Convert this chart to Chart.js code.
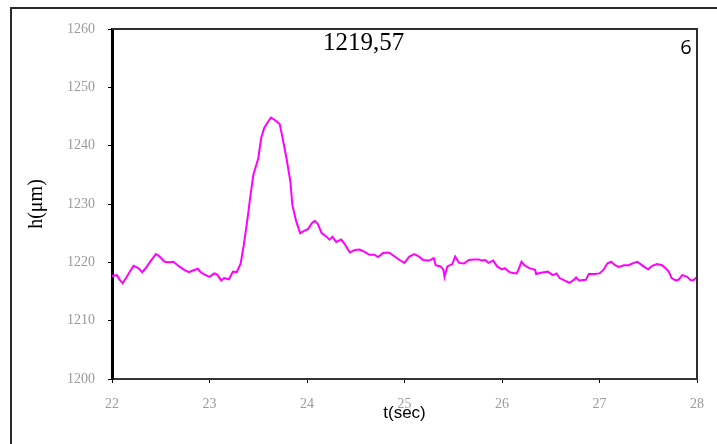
<!DOCTYPE html>
<html>
<head>
<meta charset="utf-8">
<title>h(t)</title>
<script src="https://cdn.jsdelivr.net/npm/chart.js@4.4.1/dist/chart.umd.min.js"></script>
<style>
  html, body { margin: 0; padding: 0; background: #fff; overflow: hidden; }
  #frame {
    position: absolute; left: 10px; top: 7px; width: 800px; height: 520px;
    border: 2px solid #2a2a2a; box-sizing: border-box;
  }
  #wrap { position: absolute; left: 0; top: 0; width: 717px; height: 444px; }
</style>
</head>
<body>
<div id="frame"></div>
<div id="wrap"><canvas id="chart"></canvas></div>
<script>
// Film height h (µm) over time t (s)
const times = [
  22.00, 22.01, 22.05, 22.08, 22.11, 22.15, 22.22, 22.27, 22.31, 22.35,
  22.40, 22.45, 22.48, 22.54, 22.59, 22.63, 22.69, 22.74, 22.79, 22.83,
  22.88, 22.91, 22.95, 23.00, 23.05, 23.08, 23.12, 23.15, 23.20, 23.24,
  23.28, 23.32, 23.35, 23.39, 23.42, 23.45, 23.50, 23.53, 23.56, 23.60,
  23.63, 23.67, 23.72, 23.75, 23.79, 23.83, 23.85, 23.89, 23.93, 23.97,
  24.01, 24.05, 24.08, 24.11, 24.15, 24.20, 24.23, 24.26, 24.30, 24.35,
  24.38, 24.44, 24.49, 24.54, 24.59, 24.64, 24.69, 24.73, 24.78, 24.84,
  24.90, 24.95, 25.00, 25.05, 25.10, 25.15, 25.19, 25.25, 25.30, 25.32,
  25.37, 25.40, 25.41, 25.44, 25.49, 25.52, 25.56, 25.61, 25.66, 25.71,
  25.76, 25.79, 25.83, 25.86, 25.91, 25.95, 26.00, 26.03, 26.07, 26.10,
  26.15, 26.17, 26.20, 26.23, 26.28, 26.34, 26.35, 26.40, 26.47, 26.52,
  26.56, 26.59, 26.64, 26.69, 26.73, 26.76, 26.79, 26.86, 26.89, 26.95,
  27.00, 27.04, 27.08, 27.12, 27.16, 27.20, 27.25, 27.30, 27.35, 27.39,
  27.42, 27.47, 27.50, 27.54, 27.59, 27.64, 27.67, 27.71, 27.74, 27.78,
  27.81, 27.85, 27.90, 27.93, 27.96, 28.00
];
const heights = [
  1217.8, 1217.7, 1217.8, 1217.0, 1216.4, 1217.5, 1219.4, 1219.0, 1218.3, 1219.1,
  1220.3, 1221.4, 1221.1, 1220.1, 1220.0, 1220.1, 1219.3, 1218.7, 1218.3, 1218.6,
  1218.9, 1218.3, 1217.9, 1217.5, 1218.1, 1217.9, 1216.9, 1217.3, 1217.1, 1218.4,
  1218.3, 1219.8, 1222.8, 1227.5, 1231.5, 1235.0, 1237.8, 1241.3, 1243.0, 1244.1,
  1244.8, 1244.4, 1243.7, 1241.3, 1237.8, 1233.8, 1229.8, 1227.0, 1225.0, 1225.4,
  1225.7, 1226.7, 1227.1, 1226.6, 1225.0, 1224.4, 1223.9, 1224.4, 1223.5, 1223.9,
  1223.3, 1221.7, 1222.1, 1222.2, 1221.8, 1221.3, 1221.3, 1220.9, 1221.6, 1221.7,
  1221.0, 1220.4, 1219.9, 1221.0, 1221.4, 1221.0, 1220.4, 1220.3, 1220.7, 1219.5,
  1219.3, 1218.7, 1217.5, 1219.3, 1219.7, 1221.0, 1219.9, 1219.8, 1220.4, 1220.5,
  1220.5, 1220.3, 1220.4, 1219.9, 1220.3, 1219.3, 1218.8, 1219.0, 1218.4, 1218.2,
  1218.1, 1218.8, 1220.1, 1219.5, 1219.0, 1218.7, 1218.0, 1218.2, 1218.4, 1217.8,
  1218.1, 1217.3, 1216.9, 1216.5, 1216.9, 1217.4, 1216.9, 1217.0, 1218.0, 1218.0,
  1218.1, 1218.7, 1219.8, 1220.1, 1219.5, 1219.2, 1219.5, 1219.5, 1219.9, 1220.1,
  1219.7, 1219.1, 1218.8, 1219.4, 1219.7, 1219.5, 1219.1, 1218.4, 1217.3, 1216.9,
  1217.0, 1217.8, 1217.5, 1217.0, 1216.9, 1217.5
];
const xTickValues = [22, 23, 24, 25, 26, 27, 28];
const yTickValues = [1200, 1210, 1220, 1230, 1240, 1250, 1260];
const meanLabel = '1219,57';
const panelLabel = '6';

const points = times.map((t, i) => ({ x: t, y: heights[i] }));

// Top and right sides of the plot box
const boxSides = {
  id: 'boxSides',
  afterDatasetsDraw(chart) {
    const { ctx, chartArea: a } = chart;
    ctx.save();
    ctx.strokeStyle = '#2e2e2e';
    ctx.lineWidth = 2;
    ctx.beginPath();
    ctx.moveTo(a.left, a.top);
    ctx.lineTo(a.right, a.top);
    ctx.lineTo(a.right, a.bottom);
    ctx.stroke();
    ctx.restore();
  }
};

// Value and panel number written inside the plot
const plotNotes = {
  id: 'plotNotes',
  afterDraw(chart) {
    const { ctx } = chart;
    ctx.save();
    ctx.fillStyle = '#000';
    ctx.textBaseline = 'alphabetic';
    ctx.textAlign = 'left';
    ctx.font = '25px "Liberation Serif", serif';
    ctx.fillText(meanLabel, 323, 50);
    ctx.textAlign = 'center';
    ctx.font = '20px "Open Sans", "Liberation Sans", sans-serif';
    ctx.fillText(panelLabel, 686, 54);
    ctx.restore();
  }
};

const tickFont = { family: '"Liberation Serif", serif', size: 14 };
const plainNumber = v => String(v);

new Chart(document.getElementById('chart'), {
  type: 'line',
  data: {
    datasets: [{
      data: points,
      borderColor: '#ff00ff',
      borderWidth: 2,
      pointRadius: 0,
      tension: 0,
      fill: false
    }]
  },
  options: {
    responsive: true,
    maintainAspectRatio: false,
    animation: false,
    layout: { padding: { left: 10, top: 29, right: 15, bottom: 0 } },
    plugins: { legend: { display: false }, tooltip: { enabled: false } },
    scales: {
      x: {
        type: 'linear',
        min: 22,
        max: 28,
        afterBuildTicks(scale) { scale.ticks = xTickValues.map(v => ({ value: v })); },
        afterFit(scale) { scale.height = 65; },
        grid: { drawOnChartArea: false, drawTicks: true, tickLength: 4, color: '#000', lineWidth: 1 },
        border: { display: true, color: '#333', width: 2 },
        ticks: { color: '#9a9a9a', font: tickFont, padding: 13, maxRotation: 0, callback: plainNumber },
        title: {
          display: true,
          text: 't(sec)',
          color: '#000',
          font: { family: '"Liberation Sans", sans-serif', size: 17 },
          padding: { top: 0, bottom: 20 }
        }
      },
      y: {
        type: 'linear',
        min: 1200,
        max: 1260,
        afterBuildTicks(scale) { scale.ticks = yTickValues.map(v => ({ value: v })); },
        afterFit(scale) { scale.width = 102; },
        grid: { drawOnChartArea: false, drawTicks: true, tickLength: 4, color: '#000', lineWidth: 1 },
        border: { display: true, color: '#000', width: 3 },
        ticks: { color: '#9a9a9a', font: tickFont, padding: 13, callback: plainNumber },
        title: {
          display: true,
          text: 'h(μm)',
          color: '#000',
          font: { family: '"Liberation Serif", serif', size: 20 },
          padding: { top: 15, bottom: 0 }
        }
      }
    }
  },
  plugins: [boxSides, plotNotes]
});
</script>
</body>
</html>
